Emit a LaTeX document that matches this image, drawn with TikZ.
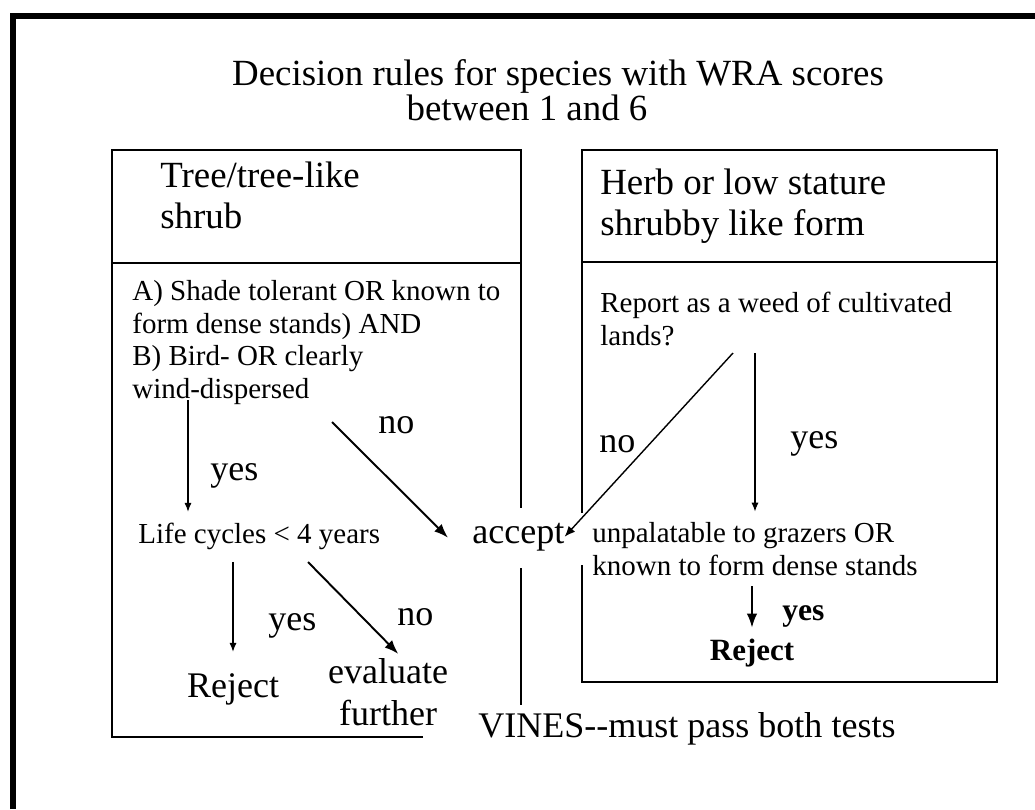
\documentclass[tikz,border=0pt]{standalone}
\usepackage{fontspec}
\setmainfont{Liberation Serif}
\usetikzlibrary{arrows.meta,positioning,calc}

\begin{document}
\begin{tikzpicture}[x=0.02cm, y=-0.02cm,
  head/.style={inner sep=0pt, align=left, font=\fontsize{21}{22.8}\selectfont},
  txt/.style={inner sep=0pt, align=left, font=\fontsize{16.5}{18.5}\selectfont},
  lbl/.style={inner sep=0pt, font=\fontsize{20.5}{24}\selectfont},
  boxline/.style={line width=1.5pt},
  thinarrow/.style={line width=0.6pt, -{Latex[length=5pt,width=4pt]}},
  thickarrow/.style={line width=1.1pt, -{Latex[length=8pt,width=6pt]}}]

\useasboundingbox (0,0) rectangle (1035,809);

% Outer frame (top and left only)
\draw[line width=3.4pt] (13,809) -- (13,16) -- (1035,16);

% Title
\node[head, anchor=base] (title) at (558,85) {Decision rules for species with WRA scores};
\node[head, anchor=base] (titleb) at (527,120) {between 1 and 6};

% Tree box (open at the lower right)
\draw[boxline] (423,737) -- (112,737) -- (112,150) -- (521,150) -- (521,508);
\draw[boxline] (112,263) -- (521,263);
\draw[boxline] (521,568) -- (521,705);

% Herb box
\draw[boxline] (582,513) -- (582,150) -- (997,150) -- (997,682) -- (582,682) -- (582,565);
\draw[boxline] (582,262) -- (997,262);

% Box headers (base = last line)
\node[head, anchor=base west] (tree) at (160,228) {Tree/tree-like\\shrub};
\node[head, anchor=base west] (herb) at (600,235) {Herb or low stature\\shrubby like form};

% Questions and outcomes
\node[txt, anchor=base west] (qtree) at (132,398) {A) Shade tolerant OR known to\\form dense stands) AND\\B) Bird- OR clearly\\wind-dispersed};
\node[txt, anchor=base west] (qherb) at (600,345) {Report as a weed of cultivated\\lands?};
\node[txt, anchor=base west] (life) at (138,543) {Life cycles < 4 years};
\node[txt, anchor=base west] (unpal) at (592,575) {unpalatable to grazers OR\\known to form dense stands};
\node[lbl, anchor=base west] (accept) at (472,543) {accept};
\node[lbl, anchor=base] (rejtree) at (233,697) {Reject};
\node[lbl, anchor=base, align=center, font=\fontsize{20.5}{23.9}\selectfont] (evalf) at (388,725) {evaluate\\further};
\node[inner sep=0pt, anchor=base, font=\bfseries\fontsize{17.6}{20}\selectfont] (rejherb) at (752,660) {Reject};
\node[lbl, anchor=base west] (vines) at (478,737) {VINES-{}-must pass both tests};

% Start points below the questions
\coordinate (treeyes) at (188,400);
\coordinate (treeno) at (332,422);
\coordinate (herbno) at (733,353);
\coordinate (herbyes) at (755,353);
\coordinate (lifeno) at (308,562);

% Tree side
\draw[thinarrow, shorten >=6pt] (treeyes) -- (treeyes |- life.north);
\node[lbl, anchor=base west] (yesa) at (210,480) {yes};
\draw[thickarrow] (treeno) -- ($(accept.west)+(-24,1)$);
\node[lbl, anchor=base west] (noa) at (378,433) {no};
\draw[thinarrow, shorten <=7pt, shorten >=12pt] (life.south -| rejtree) -- (rejtree.north);
\node[lbl, anchor=base west] (yesb) at (268,630) {yes};
\draw[thickarrow, shorten >=3pt] (lifeno) -- ($(evalf.north)+(14,0)$);
\node[lbl, anchor=base west] (nob) at (397,625) {no};

% Herb side
\draw[line width=0.8pt, -{Latex[length=6pt,width=5pt]}] (herbno) -- (accept.east);
\node[lbl, anchor=base west] (noc) at (599,452) {no};
\draw[thinarrow, shorten >=6pt] (herbyes) -- (herbyes |- unpal.north);
\node[lbl, anchor=base west] (yesc) at (790,448) {yes};
\draw[thickarrow, shorten <=6pt, shorten >=6pt] (unpal.south -| rejherb) -- (rejherb.north);
\node[inner sep=0pt, anchor=base west, font=\bfseries\fontsize{18}{20}\selectfont] (yesd) at (782,620) {yes};

\end{tikzpicture}
\end{document}
